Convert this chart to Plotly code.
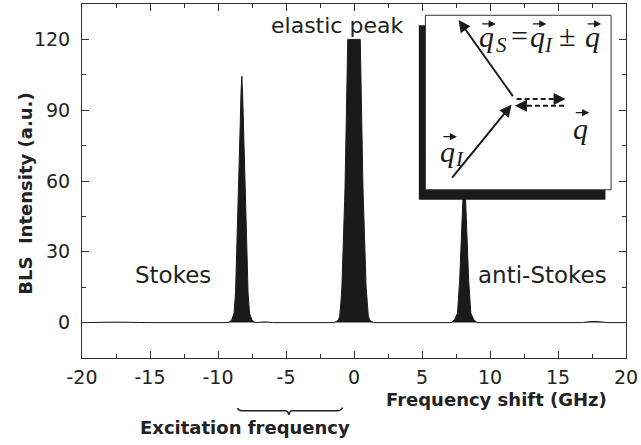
import plotly.graph_objects as go

# ---------------- data ----------------
freq_ghz = [-20, -17.5, -15, -10, -9.25, -9.0, -8.82, -8.71, -8.64, -8.55, -8.42, -8.37, -8.31,
            -8.25, -8.19, -8.13, -8.08, -7.95, -7.86, -7.79, -7.68, -7.5, -7.25, -7.0, -6.5, -6.0,
            -3.0, -1.45, -1.15, -1.05, -0.97, -0.89, -0.66, -0.46, 0.46, 0.66, 0.89, 0.97, 1.05,
            1.15, 1.45, 3.0, 6.0, 7.15, 7.4, 7.61, 7.77, 7.88, 8.0, 8.1, 8.2, 8.32, 8.43, 8.59,
            8.8, 9.05, 11.0, 15.0, 16.8, 17.3, 17.7, 18.2, 18.6, 20]
bls_intensity = [0, 0.2, 0, 0, 0, 1, 4, 12.6, 26, 40, 68, 83, 97,
                 104.4, 97, 83, 68, 40, 26, 12.6, 4, 1, 0, 0.2, 0.3, 0,
                 0, 0, 1, 3, 8, 15, 57, 120, 120, 57, 15, 8, 3,
                 1, 0, 0, 0, 0, 1.3, 4, 18, 32, 51, 68, 51, 32, 18, 4,
                 1.3, 0, 0, 0, 0, 0.4, 0.5, 0.3, 0, 0]

x_ticks = [-20, -15, -10, -5, 0, 5, 10, 15, 20]
y_ticks = [0, 30, 60, 90, 120]

# ---------------- layout helpers ----------------
W, H = 641, 445
L, R, T, B = 82, 629, 3, 358


def px(x):
    return (x - L) / (R - L)


def py(y):
    return (B - y) / (B - T)


INK = "#1a1a1a"
TXT = "#222222"
SANS = "DejaVu Sans, Arial, sans-serif"
SERIF = "Liberation Serif, Times New Roman, serif"

fig = go.Figure()
fig.add_trace(go.Scatter(
    x=freq_ghz, y=bls_intensity, mode="lines",
    line=dict(color=INK, width=1), fill="tozeroy", fillcolor=INK,
    hoverinfo="skip", showlegend=False))

axis_common = dict(showgrid=False, zeroline=False, showline=True, linecolor="#333333",
                   linewidth=1, mirror="ticks", ticks="inside", tickcolor="#333333",
                   tickwidth=1, ticklen=7, ticklabeloverflow="allow",
                   tickfont=dict(family=SANS, size=19, color=TXT))

fig.update_layout(
    width=W, height=H,
    margin=dict(l=L, r=W - R, t=T, b=H - B),
    paper_bgcolor="white", plot_bgcolor="white",
    xaxis=dict(range=[-20, 20], tickvals=x_ticks, ticktext=[str(v) for v in x_ticks],
               minor=dict(dtick=2.5, ticks="inside", ticklen=4, tickcolor="#333333"),
               ticklabelstandoff=2, **axis_common),
    yaxis=dict(range=[-15, 135], tickvals=y_ticks, ticktext=[str(v) for v in y_ticks],
               minor=dict(tick0=15, dtick=30, ticks="inside", ticklen=4, tickcolor="#333333"),
               ticklabelstandoff=7, **axis_common),
)

# ---------------- inset box ----------------
shapes = [
    dict(type="rect", xref="paper", yref="paper", layer="above",
         x0=px(420.7), x1=px(608.3), y0=py(199.3), y1=py(24.3),
         fillcolor=INK, line=dict(width=0)),
    dict(type="rect", xref="paper", yref="paper", layer="above",
         x0=px(427.3), x1=px(614), y0=py(189.3), y1=py(14.3),
         fillcolor="white", line=dict(color="#333333", width=1)),
    # dashed phonon arrows (shafts)
    dict(type="line", xref="paper", yref="paper", layer="above",
         x0=px(519), y0=py(98.3), x1=px(561), y1=py(98.3),
         line=dict(color=INK, width=2, dash="5px,3px")),
    dict(type="line", xref="paper", yref="paper", layer="above",
         x0=px(566.7), y0=py(105), x1=px(524), y1=py(105),
         line=dict(color=INK, width=2, dash="5px,3px")),
]

# brace under the axis
bx = [238.3, 243, 286.7, 290, 293.3, 338.3, 344]
by = [408.3, 411, 411, 415, 411, 411, 407.7]
path = (f"M {px(bx[0])},{py(by[0])} Q {px(239.5)},{py(411)} {px(bx[1])},{py(by[1])} "
        f"L {px(bx[2])},{py(by[2])} Q {px(289)},{py(411)} {px(bx[3])},{py(by[3])} "
        f"Q {px(291)},{py(411)} {px(bx[4])},{py(by[4])} "
        f"L {px(bx[5])},{py(by[5])} Q {px(342.5)},{py(411)} {px(bx[6])},{py(by[6])}")
shapes.append(dict(type="path", xref="paper", yref="paper", path=path,
                   line=dict(color=TXT, width=1.5)))
fig.update_layout(shapes=shapes)

ann = []


def text(x, y, s, size, family=SANS, bold=False, angle=0, color=TXT):
    if bold:
        s = f"<b>{s}</b>"
    ann.append(dict(x=px(x), y=py(y), xref="paper", yref="paper", text=s,
                    showarrow=False, xanchor="center", yanchor="middle",
                    textangle=angle, font=dict(family=family, size=size, color=color)))


def arrow(x_tip, y_tip, x_tail, y_tail, size=1.2, width=2):
    ann.append(dict(x=px(x_tip), y=py(y_tip), xref="paper", yref="paper", text="",
                    showarrow=True, ax=x_tail - x_tip, ay=y_tail - y_tip,
                    axref="pixel", ayref="pixel",
                    arrowhead=2, arrowsize=size, arrowwidth=width, arrowcolor=INK))


text(338, 25, "elastic peak", 22)
text(173, 275, "Stokes", 23)
text(545, 275, "anti-Stokes", 23)
text(499, 400, "Frequency shift (GHz)", 18, bold=True)
text(246, 428, "Excitation frequency", 18, bold=True)
text(25, 193, "BLS&nbsp;&nbsp;Intensity (a.u.)", 18, bold=True, angle=-90)

# inset vectors
arrow(514, 104, 453.3, 178.3)
arrow(460.7, 19, 516, 96.7)
arrow(568.3, 98.3, 560, 98.3)
arrow(517.3, 105, 525, 105)

# equation and vector labels, glyph by glyph
QS = 30
SUB = 21
eq_glyphs = [("<i>q</i>", 489, 36, QS), ("<i>S</i>", 504, 44, SUB), ("=", 521.5, 35, QS),
             ("<i>q</i>", 540, 36, QS), ("<i>I</i>", 551, 44, SUB), ("\u00b1", 570, 35, QS),
             ("<i>q</i>", 595, 36, QS),
             ("<i>q</i>", 583, 128, QS),
             ("<i>q</i>", 450, 151, QS), ("<i>I</i>", 462, 158, SUB)]
for g, gx, gy, gs in eq_glyphs:
    text(gx, gy, g, gs, family=SERIF, color=INK)

over_arrows = [(483, 498, 23), (534, 549, 23), (589, 604, 23), (577, 592, 112), (444, 459, 136)]
for x0, x1, yy in over_arrows:
    arrow(x1, yy, x0, yy, size=1.1, width=1.3)

fig.update_layout(annotations=ann)

fig.write_html("out.html")
